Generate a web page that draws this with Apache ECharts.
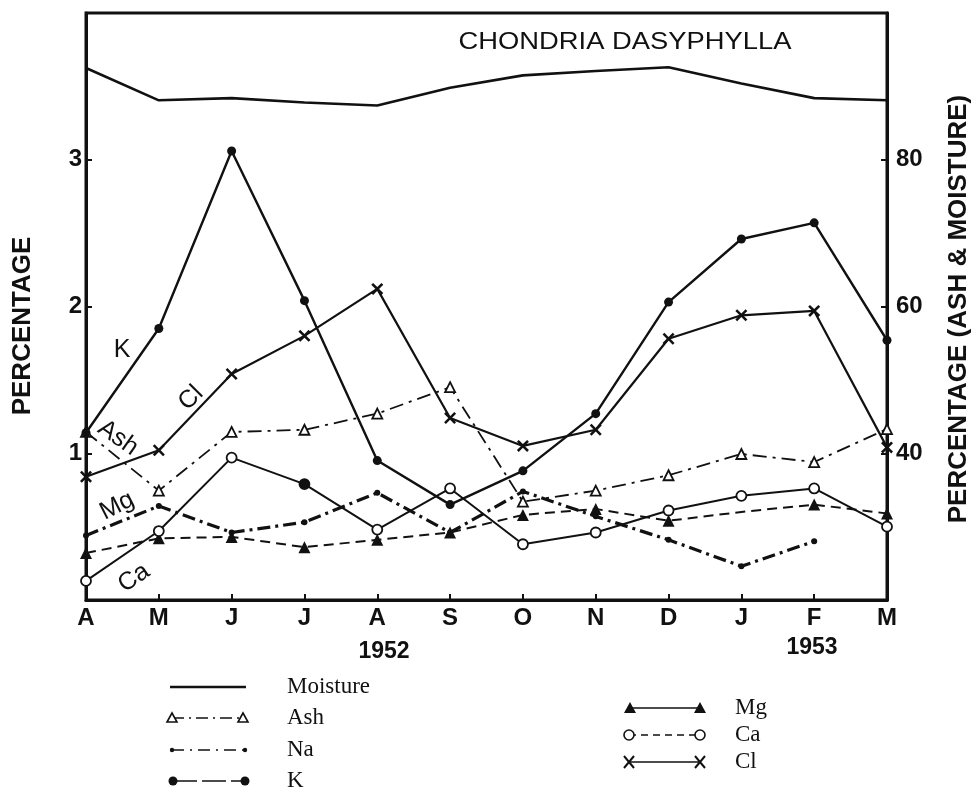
<!DOCTYPE html>
<html>
<head>
<meta charset="utf-8">
<title>Chondria dasyphylla</title>
<script src="https://cdn.jsdelivr.net/npm/echarts@6/dist/echarts.min.js"></script>
<style>
  html, body { margin: 0; padding: 0; background: #fff; }
  #chart { width: 972px; height: 799px; }
</style>
</head>
<body>
<div id="chart"></div>
<script>
// Apr 1952 .. Mar 1953
const months = ['Apr', 'May', 'Jun', 'Jul', 'Aug', 'Sep', 'Oct', 'Nov', 'Dec', 'Jan', 'Feb', 'Mar'];
const leftTicks = [1, 2, 3];
const rightTicks = [40, 60, 80];

// right axis: percentage (ash & moisture)
const moisture = [92.5, 88.1, 88.4, 87.8, 87.4, 89.8, 91.5, 92.1, 92.6, 90.4, 88.4, 88.1];
const ash = [42.9, 34.9, 42.9, 43.2, 45.4, 49.0, 33.4, 34.9, 37.0, 39.9, 38.8, 43.3];

// left axis: percentage
const potassium = [1.14, 1.85, 3.06, 2.04, 0.95, 0.65, 0.88, 1.27, 2.03, 2.46, 2.57, 1.77];
const chloride = [0.84, 1.02, 1.54, 1.80, 2.12, 1.24, 1.05, 1.16, 1.78, 1.94, 1.97, 1.04];
const sodium = [0.44, 0.64, 0.46, 0.53, 0.73, 0.46, 0.74, 0.57, 0.41, 0.23, 0.40, null];
const magnesium = [0.32, 0.42, 0.43, 0.36, 0.41, 0.46, 0.58, 0.62, 0.54, 0.60, 0.65, 0.59];
const calcium = [0.13, 0.47, 0.97, 0.79, 0.48, 0.76, 0.38, 0.46, 0.61, 0.71, 0.76, 0.50];

const years = [['1952', 384, 652], ['1953', 812, 648]];

const SANS = '"Liberation Sans", Arial, sans-serif';
const SERIF = '"Liberation Serif", "Times New Roman", serif';
const INK = '#111';
const CROSS = 'path://M0,1.5L1.5,0L5,3.5L8.5,0L10,1.5L6.5,5L10,8.5L8.5,10L5,6.5L1.5,10L0,8.5L3.5,5Z';

const chart = echarts.init(document.getElementById('chart'), null, { renderer: 'canvas' });

const lineSeries = (name, data, yAxisIndex, dash, width, symbol, size, fill) => ({
  name,
  type: 'line',
  yAxisIndex,
  data,
  symbol,
  symbolSize: size,
  showSymbol: symbol !== 'none',
  animation: false,
  connectNulls: false,
  lineStyle: { color: INK, width, type: dash },
  itemStyle: { color: fill, borderColor: INK, borderWidth: fill === '#fff' ? 1.8 : 0 },
  emphasis: { disabled: true },
});

// one-off marks as drawn in the figure
const magData = magnesium.map((v, i) => (i === 9 ? { value: v, symbol: 'none' } : v));
const calData = calcium.map((v, i) => (i === 3 ? { value: v, itemStyle: { color: INK } } : v));

// in-plot labels [text, x, y, angle]
const curveLabels = [
  ['K', 122, 350, 0],
  ['Cl', 191, 398, 45],
  ['Ash', 118, 438, -35],
  ['Mg', 117, 506, 27],
  ['Ca', 134, 578, 34],
];

// legend rows [label, x1, x2, y, dash, width, mark, labelX]
const legendRows = [
  ['Moisture', 170, 246, 687, null, 2.5, 'none', 287],
  ['Ash', 172, 243, 718, [12, 5, 2, 5], 1.6, 'openTri', 287],
  ['Na', 172, 245, 750, [12, 6, 2, 6], 1.6, 'dot', 287],
  ['K', 173, 245, 781, [24, 5], 1.6, 'disc', 287],
  ['Mg', 630, 700, 708, null, 1.6, 'tri', 735],
  ['Ca', 629, 700, 735, [7, 5], 1.6, 'ring', 735],
  ['Cl', 629, 700, 762, null, 1.6, 'cross', 735],
];

const markAt = (kind, x, y) => {
  const stroke = { stroke: INK, lineWidth: 1.6 };
  switch (kind) {
    case 'openTri':
      return { type: 'polygon', shape: { points: [[x, y - 5], [x - 5, y + 4], [x + 5, y + 4]] }, style: { fill: '#fff', ...stroke } };
    case 'tri':
      return { type: 'polygon', shape: { points: [[x, y - 6], [x - 6, y + 5], [x + 6, y + 5]] }, style: { fill: INK } };
    case 'dot':
      return { type: 'circle', shape: { cx: x, cy: y, r: 2.2 }, style: { fill: INK } };
    case 'disc':
      return { type: 'circle', shape: { cx: x, cy: y, r: 4.5 }, style: { fill: INK } };
    case 'ring':
      return { type: 'circle', shape: { cx: x, cy: y, r: 5 }, style: { fill: '#fff', ...stroke } };
    case 'cross':
      return { type: 'polyline', shape: { points: [[x - 5, y - 6], [x, y], [x - 5, y + 6], [x, y], [x + 5, y + 6], [x, y], [x + 5, y - 6]] }, style: { fill: null, stroke: INK, lineWidth: 2 } };
    default:
      return null;
  }
};

const legendGraphics = [];
legendRows.forEach(([label, x1, x2, y, dash, width, mark, labelX]) => {
  legendGraphics.push({
    type: 'line',
    shape: { x1, y1: y, x2, y2: y },
    style: { stroke: INK, lineWidth: width, lineDash: dash },
  });
  [x1, x2].forEach((x) => {
    const m = markAt(mark, x, y);
    if (m) legendGraphics.push(m);
  });
  legendGraphics.push({
    type: 'text',
    x: labelX,
    y,
    style: { text: label, font: '23px ' + SERIF, fill: INK, textVerticalAlign: 'middle' },
  });
});

const textGraphics = [
  {
    type: 'text', x: 625, y: 42, scaleX: 1.14,
    style: { text: 'CHONDRIA DASYPHYLLA', font: '24px ' + SANS, fill: INK, textAlign: 'center', textVerticalAlign: 'middle' },
  },
  {
    type: 'text', x: 23, y: 326, rotation: Math.PI / 2,
    style: { text: 'PERCENTAGE', font: 'bold 26px ' + SANS, fill: INK, textAlign: 'center', textVerticalAlign: 'middle' },
  },
  {
    type: 'text', x: 959, y: 309, rotation: Math.PI / 2,
    style: { text: 'PERCENTAGE (ASH & MOISTURE)', font: 'bold 26px ' + SANS, fill: INK, textAlign: 'center', textVerticalAlign: 'middle' },
  },
  ...years.map(([t, x, y]) => ({
    type: 'text', x, y,
    style: { text: t, font: 'bold 23px ' + SANS, fill: INK, textAlign: 'center', textVerticalAlign: 'middle' },
  })),
  ...curveLabels.map(([t, x, y, a]) => ({
    type: 'text', x, y, rotation: (a * Math.PI) / 180,
    style: { text: t, font: '25px ' + SANS, fill: INK, textAlign: 'center', textVerticalAlign: 'middle' },
  })),
];

const axisCommon = {
  axisLine: { show: true, lineStyle: { color: INK, width: 3 } },
  axisTick: { show: true, inside: true, length: 6, lineStyle: { color: INK, width: 2 } },
  splitLine: { show: false },
};

chart.setOption({
  backgroundColor: '#fff',
  animation: false,
  grid: {
    left: 86, right: 85, top: 13, bottom: 199,
    show: true, borderColor: INK, borderWidth: 3,
    containLabel: false, outerBoundsMode: 'none',
  },
  xAxis: {
    type: 'category',
    data: months,
    boundaryGap: false,
    ...axisCommon,
    axisLabel: {
      interval: 0, margin: 6, color: INK,
      fontFamily: SANS, fontWeight: 'bold', fontSize: 24,
      formatter: (v) => v.charAt(0),
    },
  },
  yAxis: [
    {
      type: 'value', position: 'left', min: 0, max: 4, interval: 1,
      ...axisCommon,
      axisLabel: {
        margin: 4, color: INK, fontFamily: SANS, fontWeight: 'bold', fontSize: 24,
        formatter: (v) => (leftTicks.includes(v) ? String(v) : ''),
      },
    },
    {
      type: 'value', position: 'right', min: 20, max: 100, interval: 20,
      ...axisCommon,
      axisLabel: {
        margin: 9, color: INK, fontFamily: SANS, fontWeight: 'bold', fontSize: 24,
        formatter: (v) => (rightTicks.includes(v) ? String(v) : ''),
      },
    },
  ],
  series: [
    lineSeries('Moisture', moisture, 1, 'solid', 2.6, 'none', 0, INK),
    lineSeries('Ash', ash, 1, [14, 6, 3, 6], 1.8, 'triangle', 10, '#fff'),
    lineSeries('Na', sodium, 0, [13, 5, 3, 5], 3.2, 'circle', 6, INK),
    lineSeries('K', potassium, 0, 'solid', 2.4, 'circle', 9, INK),
    lineSeries('Cl', chloride, 0, 'solid', 2.2, CROSS, 12, INK),
    lineSeries('Mg', magData, 0, [10, 6], 2, 'triangle', 12, INK),
    lineSeries('Ca', calData, 0, 'solid', 2, 'circle', 10, '#fff'),
  ],
  graphic: [...textGraphics, ...legendGraphics],
});
</script>
</body>
</html>
